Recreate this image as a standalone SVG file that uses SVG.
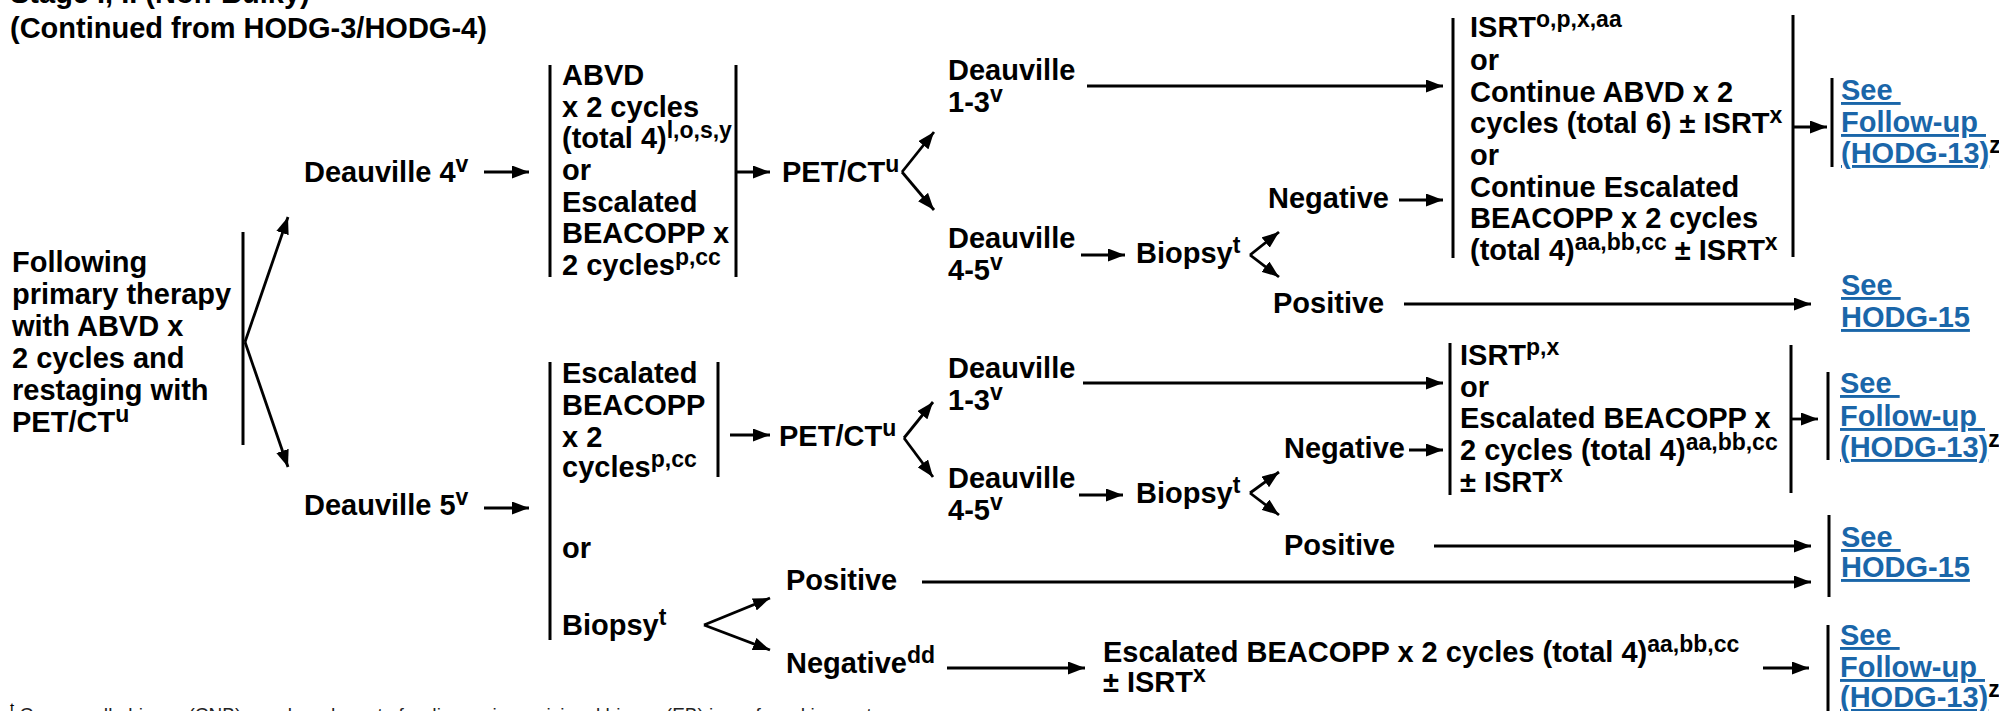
<svg xmlns="http://www.w3.org/2000/svg" width="1999" height="711" viewBox="0 0 1999 711">
<style>
text{font-family:"Liberation Sans",Arial,Helvetica,sans-serif;font-weight:bold;font-size:29px;fill:#000}
.sup{font-size:23px;baseline-shift:10px}
.lk{fill:#1a66a9;text-decoration:underline}
.fn{font-size:19px;font-weight:normal;fill:#222}
.fsup{font-size:15px;baseline-shift:8px;fill:#000}
.bar{stroke:#000;stroke-width:3;fill:none}
.cn line{stroke:#000;stroke-width:2.8;fill:none}
.ar{marker-end:url(#ah)}
</style>
<defs>
<marker id="ah" markerUnits="userSpaceOnUse" markerWidth="18" markerHeight="13" refX="17" refY="6.5" orient="auto">
<path d="M0,0 L17,6.5 L0,13 z" fill="#000"/>
</marker>
</defs>

<g id="header">
<text x="10" y="3">Stage I, II (Non-Bulky)</text>
<text x="10" y="38">(Continued from HODG-3/HODG-4)</text>
</g>

<g id="n-start">
<text x="12" y="272">Following</text>
<text x="12" y="304">primary therapy</text>
<text x="12" y="336">with ABVD x</text>
<text x="12" y="368">2 cycles and</text>
<text x="12" y="400">restaging with</text>
<text x="12" y="432">PET/CT<tspan class="sup">u</tspan></text>
<line class="bar" x1="243" y1="232" x2="243" y2="445"/>
</g>

<g id="n-d4"><text x="304" y="182">Deauville 4<tspan class="sup">v</tspan></text></g>
<g id="n-d5"><text x="304" y="515">Deauville 5<tspan class="sup">v</tspan></text></g>

<g id="n-abvd">
<line class="bar" x1="550" y1="65" x2="550" y2="277"/>
<line class="bar" x1="736" y1="65" x2="736" y2="277"/>
<text x="562" y="85">ABVD</text>
<text x="562" y="117">x 2 cycles</text>
<text x="562" y="148">(total 4)<tspan class="sup">l,o,s,y</tspan></text>
<text x="562" y="180">or</text>
<text x="562" y="212">Escalated</text>
<text x="562" y="243">BEACOPP x</text>
<text x="562" y="275">2 cycles<tspan class="sup">p,cc</tspan></text>
</g>

<g id="n-esc">
<line class="bar" x1="550" y1="362" x2="550" y2="640"/>
<line class="bar" x1="718" y1="362" x2="718" y2="477"/>
<text x="562" y="383">Escalated</text>
<text x="562" y="415">BEACOPP</text>
<text x="562" y="447">x 2</text>
<text x="562" y="477">cycles<tspan class="sup">p,cc</tspan></text>
<text x="562" y="558">or</text>
<text x="562" y="635">Biopsy<tspan class="sup">t</tspan></text>
</g>

<g id="n-pet1"><text x="782" y="182">PET/CT<tspan class="sup">u</tspan></text></g>
<g id="n-pet2"><text x="779" y="446">PET/CT<tspan class="sup">u</tspan></text></g>

<g id="n-d13a"><text x="948" y="80">Deauville</text><text x="948" y="112">1-3<tspan class="sup">v</tspan></text></g>
<g id="n-d45a"><text x="948" y="248">Deauville</text><text x="948" y="280">4-5<tspan class="sup">v</tspan></text></g>
<g id="n-bx1"><text x="1136" y="263">Biopsy<tspan class="sup">t</tspan></text></g>
<g id="n-neg1"><text x="1268" y="208">Negative</text></g>
<g id="n-pos1"><text x="1273" y="313">Positive</text></g>

<g id="n-box1">
<line class="bar" x1="1453" y1="18" x2="1453" y2="258"/>
<line class="bar" x1="1793" y1="15" x2="1793" y2="257"/>
<text x="1470" y="37">ISRT<tspan class="sup">o,p,x,aa</tspan></text>
<text x="1470" y="70">or</text>
<text x="1470" y="102">Continue ABVD x 2</text>
<text x="1470" y="133">cycles (total 6) ± ISRT<tspan class="sup">x</tspan></text>
<text x="1470" y="165">or</text>
<text x="1470" y="197">Continue Escalated</text>
<text x="1470" y="228">BEACOPP x 2 cycles</text>
<text x="1470" y="260">(total 4)<tspan class="sup">aa,bb,cc</tspan> ± ISRT<tspan class="sup">x</tspan></text>
</g>

<g id="n-fu1">
<line class="bar" x1="1832" y1="78" x2="1832" y2="167"/>
<text x="1841" y="100" class="lk" xml:space="preserve">See </text>
<text x="1841" y="132" class="lk" xml:space="preserve">Follow-up </text>
<text x="1841" y="163"><tspan class="lk">(HODG-13)</tspan><tspan class="sup">z</tspan></text>
</g>

<g id="n-h15a">
<text x="1841" y="295" class="lk" xml:space="preserve">See </text>
<text x="1841" y="327" class="lk">HODG-15</text>
</g>

<g id="n-d13b"><text x="948" y="378">Deauville</text><text x="948" y="410">1-3<tspan class="sup">v</tspan></text></g>
<g id="n-d45b"><text x="948" y="488">Deauville</text><text x="948" y="520">4-5<tspan class="sup">v</tspan></text></g>
<g id="n-bx2"><text x="1136" y="503">Biopsy<tspan class="sup">t</tspan></text></g>
<g id="n-neg2"><text x="1284" y="458">Negative</text></g>
<g id="n-pos2"><text x="1284" y="555">Positive</text></g>

<g id="n-box2">
<line class="bar" x1="1450" y1="343" x2="1450" y2="495"/>
<line class="bar" x1="1791" y1="345" x2="1791" y2="493"/>
<text x="1460" y="365">ISRT<tspan class="sup">p,x</tspan></text>
<text x="1460" y="397">or</text>
<text x="1460" y="428">Escalated BEACOPP x</text>
<text x="1460" y="460">2 cycles (total 4)<tspan class="sup">aa,bb,cc</tspan></text>
<text x="1460" y="492">± ISRT<tspan class="sup">x</tspan></text>
</g>

<g id="n-fu2">
<line class="bar" x1="1828" y1="372" x2="1828" y2="460"/>
<text x="1840" y="393" class="lk" xml:space="preserve">See </text>
<text x="1840" y="426" class="lk" xml:space="preserve">Follow-up </text>
<text x="1840" y="457"><tspan class="lk">(HODG-13)</tspan><tspan class="sup">z</tspan></text>
</g>

<g id="n-h15b">
<line class="bar" x1="1829" y1="515" x2="1829" y2="597"/>
<text x="1841" y="547" class="lk" xml:space="preserve">See </text>
<text x="1841" y="577" class="lk">HODG-15</text>
</g>

<g id="n-pos3"><text x="786" y="590">Positive</text></g>
<g id="n-neg3"><text x="786" y="673">Negative<tspan class="sup">dd</tspan></text></g>

<g id="n-esc3">
<text x="1103" y="662">Escalated BEACOPP x 2 cycles (total 4)<tspan class="sup">aa,bb,cc</tspan></text>
<text x="1103" y="692">± ISRT<tspan class="sup">x</tspan></text>
</g>

<g id="n-fu3">
<line class="bar" x1="1828" y1="625" x2="1828" y2="711"/>
<text x="1840" y="645" class="lk" xml:space="preserve">See </text>
<text x="1840" y="677" class="lk" xml:space="preserve">Follow-up </text>
<text x="1840" y="707"><tspan class="lk">(HODG-13)</tspan><tspan class="sup">z</tspan></text>
</g>

<g id="footnote">
<text x="10" y="721" class="fn"><tspan class="fsup">t</tspan> Core needle biopsy (CNB) may be adequate for diagnosis; excisional biopsy (EB) is preferred in most cases.</text>
</g>

<g id="connectors" class="cn">
<line class="ar" x1="245" y1="342" x2="288" y2="217"/>
<line class="ar" x1="245" y1="342" x2="288" y2="467"/>
<line class="ar" x1="484" y1="172" x2="529" y2="172"/>
<line class="ar" x1="484" y1="508" x2="529" y2="508"/>
<line class="ar" x1="736" y1="172" x2="770" y2="172"/>
<line class="ar" x1="902" y1="172" x2="934" y2="132"/>
<line class="ar" x1="902" y1="172" x2="934" y2="210"/>
<line class="ar" x1="1087" y1="86" x2="1443" y2="86"/>
<line class="ar" x1="1081" y1="255" x2="1125" y2="255"/>
<line class="ar" x1="1250" y1="255" x2="1279" y2="232"/>
<line class="ar" x1="1250" y1="255" x2="1279" y2="277"/>
<line class="ar" x1="1399" y1="200" x2="1443" y2="200"/>
<line class="ar" x1="1404" y1="304" x2="1811" y2="304"/>
<line class="ar" x1="1793" y1="127" x2="1827" y2="127"/>
<line class="ar" x1="730" y1="435" x2="770" y2="435"/>
<line class="ar" x1="904" y1="438" x2="933" y2="402"/>
<line class="ar" x1="904" y1="438" x2="933" y2="477"/>
<line class="ar" x1="1083" y1="383" x2="1443" y2="383"/>
<line class="ar" x1="1079" y1="495" x2="1123" y2="495"/>
<line class="ar" x1="1250" y1="493" x2="1279" y2="472"/>
<line class="ar" x1="1250" y1="493" x2="1279" y2="515"/>
<line class="ar" x1="1409" y1="450" x2="1443" y2="450"/>
<line class="ar" x1="1791" y1="419" x2="1818" y2="419"/>
<line class="ar" x1="1434" y1="546" x2="1811" y2="546"/>
<line class="ar" x1="922" y1="582" x2="1811" y2="582"/>
<line class="ar" x1="704" y1="625" x2="770" y2="598"/>
<line class="ar" x1="704" y1="625" x2="770" y2="650"/>
<line class="ar" x1="947" y1="668" x2="1085" y2="668"/>
<line class="ar" x1="1763" y1="668" x2="1809" y2="668"/>
</g>
</svg>
